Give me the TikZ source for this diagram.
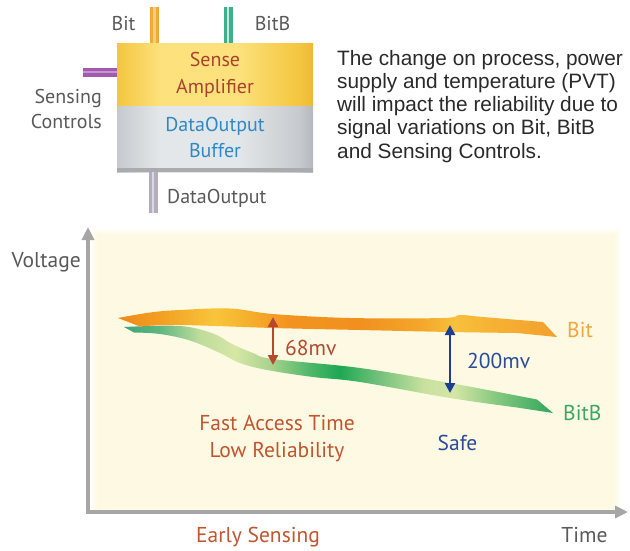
\documentclass[tikz,border=0pt]{standalone}
\usepackage{fontspec}
\setmainfont{Liberation Sans}
\newfontfamily\labelfont{PT Sans}
\usetikzlibrary{arrows.meta}

% text colours
\definecolor{txtgray}{HTML}{5A5A5A}
\definecolor{paratext}{HTML}{2A2A2A}
\definecolor{ampred}{HTML}{A9432D}
\definecolor{bufblue}{HTML}{2F88C6}
\definecolor{rust}{HTML}{C0552F}
\definecolor{safeblue}{HTML}{2B4C9B}
\definecolor{mvred}{HTML}{B04A30}
\definecolor{bitlabel}{HTML}{EFA63E}
\definecolor{bitblabel}{HTML}{3AA765}
% connector colours
\definecolor{arrowred}{HTML}{B8472F}
\definecolor{arrowblue}{HTML}{1D3F92}
\definecolor{axisgray}{HTML}{A6A6A6}
\definecolor{bitwire}{HTML}{F0A938}
\definecolor{bitcore}{HTML}{F8CF72}
\definecolor{bitbwire}{HTML}{3CB08C}
\definecolor{bitbcore}{HTML}{C4EBD9}
\definecolor{ctlwire}{HTML}{A05AAE}
\definecolor{ctlcore}{HTML}{C794D0}
\definecolor{dowire}{HTML}{B3ADBD}
\definecolor{docore}{HTML}{DCD8E2}
% fills
\definecolor{panelcream}{HTML}{FEF8DC}
\definecolor{bufedge}{HTML}{A9ABAE}
\definecolor{ampA}{HTML}{F4C63F}
\definecolor{ampB}{HTML}{FCE17C}
\definecolor{ampC}{HTML}{EDB936}
\definecolor{bufA}{HTML}{C6CACE}
\definecolor{bufB}{HTML}{E4E7E9}
\definecolor{bufC}{HTML}{B5B9BD}
% Bit band
\definecolor{oA}{HTML}{EE8A1C}
\definecolor{oB}{HTML}{F39F22}
\definecolor{oC}{HTML}{F8C53A}
\definecolor{oD}{HTML}{F6AE2C}
\definecolor{oE}{HTML}{F2931F}
\definecolor{oF}{HTML}{F1901F}
\definecolor{oG}{HTML}{F4A62A}
\definecolor{oH}{HTML}{F8C03C}
\definecolor{oI}{HTML}{F6B234}
\definecolor{oJ}{HTML}{F2A02C}
% BitB band
\definecolor{gA}{HTML}{3AA77A}
\definecolor{gB}{HTML}{5DB67F}
\definecolor{gC}{HTML}{BEDC9C}
\definecolor{gD}{HTML}{D6E7A5}
\definecolor{gE}{HTML}{A9D38E}
\definecolor{gF}{HTML}{4FB76A}
\definecolor{gG}{HTML}{1DA854}
\definecolor{gH}{HTML}{6BBE76}
\definecolor{gI}{HTML}{C9E1A0}
\definecolor{gJ}{HTML}{D4E6A6}
\definecolor{gK}{HTML}{88C981}
\definecolor{gL}{HTML}{2FA65C}

% TikZ fits the middle band 25bp--75bp of a shading to the path's box
\pgfdeclarehorizontalshading{ampshade}{100bp}{color(0bp)=(ampA); color(25bp)=(ampA); color(36bp)=(ampB); color(56bp)=(ampB); color(71.5bp)=(ampA); color(75bp)=(ampC); color(100bp)=(ampC)}
\pgfdeclarehorizontalshading{bufshade}{100bp}{color(0bp)=(bufA); color(25bp)=(bufA); color(36bp)=(bufB); color(56bp)=(bufB); color(71.5bp)=(bufA); color(75bp)=(bufC); color(100bp)=(bufC)}
\pgfdeclarehorizontalshading{bitshade}{100bp}{color(0bp)=(oA); color(25bp)=(oA); color(29.8bp)=(oB); color(36bp)=(oC); color(40bp)=(oD); color(44.5bp)=(oE); color(52.5bp)=(oF); color(59.4bp)=(oG); color(63.4bp)=(oH); color(67.4bp)=(oI); color(75bp)=(oJ); color(100bp)=(oJ)}
\pgfdeclarehorizontalshading{bitbshade}{100bp}{color(0bp)=(gA); color(25bp)=(gA); color(29bp)=(gB); color(33.8bp)=(gC); color(37.9bp)=(gD); color(42bp)=(gE); color(46.6bp)=(gF); color(50.1bp)=(gG); color(54.2bp)=(gH); color(60bp)=(gI); color(63.5bp)=(gJ); color(68.2bp)=(gK); color(75bp)=(gL); color(100bp)=(gL)}

% a block of lines whose baseline is that of its first line
\newcommand\linesblock[2]{\begin{tabular}[t]{@{}#1@{}}#2\end{tabular}}

\tikzset{
  lbl/.style={inner sep=0pt, font=\labelfont\fontsize{20}{25}\selectfont, text=txtgray},
  chartlbl/.style={inner sep=0pt, font=\labelfont\fontsize{21.5}{27}\selectfont},
  para/.style={inner sep=0pt, font=\fontsize{20.8}{23.3}\selectfont, text=paratext},
  blockpart/.style={inner sep=0pt, minimum width=196pt, shade,
    font=\labelfont\fontsize{20}{26.5}\selectfont},
  wire/.style={line width=9pt},
  wirecore/.style={line width=2.6pt},
  axis/.style={draw=axisgray, line width=3.4pt,
    {Triangle[length=13pt,width=12pt]}-{Triangle[length=13pt,width=12pt]}},
  mvarrow/.style={line width=2.4pt,
    {Triangle[length=10pt,width=10pt]}-{Triangle[length=10pt,width=10pt]}},
}

\begin{document}
\begin{tikzpicture}[x=1pt, y=-1pt]
\useasboundingbox (0,0) rectangle (630,550);
\fill[white] (0,0) rectangle (630,550);

% ---------- sense amplifier block ----------
\coordinate (bitEnd) at (154.5,7);
\coordinate (bitbEnd) at (228,7);
\coordinate (ctlEnd) at (83,72);
\coordinate (doEnd) at (153,213);

\node[blockpart, shading=ampshade, minimum height=63pt, text=ampred] (amp) at (215,74.5)
  {\linesblock{c}{Sense\\Amplifier}};
\node[blockpart, shading=bufshade, minimum height=66pt, text=bufblue] (buf) at (215,139)
  {\linesblock{c}{DataOutput\\Buffer}};
\fill[bufedge] (buf.south west) rectangle ([yshift=4pt]buf.south east);

% signal wires
\draw[wire, draw=bitwire] (bitEnd) -- (bitEnd |- amp.north);
\draw[wirecore, draw=bitcore] (bitEnd) -- (bitEnd |- amp.north);
\draw[wire, draw=bitbwire] (bitbEnd) -- (bitbEnd |- amp.north);
\draw[wirecore, draw=bitbcore] (bitbEnd) -- (bitbEnd |- amp.north);
\draw[wire, draw=ctlwire] (ctlEnd) -- (ctlEnd -| amp.west);
\draw[wirecore, draw=ctlcore] (ctlEnd) -- (ctlEnd -| amp.west);
\draw[wire, draw=dowire] (doEnd |- buf.south) -- (doEnd);
\draw[wirecore, draw=docore] (doEnd |- buf.south) -- (doEnd);

\node[lbl, anchor=base] (bitLbl) at (123.5,30) {Bit};
\node[lbl, anchor=base] (bitbLbl) at (272.5,30) {BitB};
\node[lbl, anchor=base east] (ctlLbl) at (102,103) {\linesblock{r}{Sensing\\Controls}};
\node[lbl, anchor=base west] (doLbl) at (167,203) {DataOutput};

\node[para, anchor=base west] (note) at (337,65)
  {\linesblock{l}{The change on process, power\\supply and temperature (PVT)\\will impact the reliability due to\\signal variations on Bit, BitB\\and Sensing Controls.}};

% ---------- voltage / time chart ----------
% cream panel with soft edges
\fill[panelcream!15!white] (90,228) rectangle (622,511);
\fill[panelcream!35!white] (92,230) rectangle (620,511);
\fill[panelcream!60!white] (94,232) rectangle (618,510);
\fill[panelcream!80!white] (97,235) rectangle (615,509);

\coordinate (org) at (88,512);
\coordinate (vtip) at (88,227);
\coordinate (htip) at (628,512);
\draw[axis] (vtip) -- (org) -- (htip);

% BitB band
\shade[shading=bitbshade]
  plot[smooth, tension=0.6] coordinates {(124,327) (180,326) (213,333.5) (232,344) (253,353) (273,359) (360,368) (450,383) (537,399.5)}
  -- (553,413)
  -- plot[smooth, tension=0.6] coordinates {(517,407.5) (450,398) (360,382) (313,377) (267,370) (240,363) (220,353) (190,340.5) (160,334) (134,332.5)}
  -- cycle;
% Bit band
\shade[shading=bitshade]
  plot[smooth, tension=0.6] coordinates {(118,318) (150,312.5) (180,310) (230,308.5) (273,314) (350,318) (443,318) (460,315) (483,317) (543,322)}
  -- (557,337)
  -- plot[smooth, tension=0.6] coordinates {(517,333) (450,332) (360,330) (273,328) (180,325) (140,326.5)}
  -- cycle;

\coordinate (gapTopA) at (273,317);
\coordinate (gapBotA) at (273,365);
\coordinate (gapTopB) at (450,325);
\coordinate (gapBotB) at (450,393);
\draw[mvarrow, draw=arrowred] (gapTopA) -- (gapBotA);
\draw[mvarrow, draw=arrowblue] (gapTopB) -- (gapBotB);

\node[chartlbl, text=mvred, anchor=base west] (mvA) at (285,355) {68mv};
\node[chartlbl, text=safeblue, anchor=base west] (mvB) at (467,368) {200mv};
\node[chartlbl, text=bitlabel, anchor=base west] (bitR) at (567,337) {Bit};
\node[chartlbl, text=bitblabel, anchor=base west] (bitbR) at (563,420) {BitB};
\node[chartlbl, text=rust, anchor=base] (fast) at (277,430)
  {\linesblock{c}{Fast Access Time\\Low Reliability}};
\node[chartlbl, text=safeblue, anchor=base] (safe) at (457.5,450) {Safe};
\node[chartlbl, text=txtgray, anchor=base east] (vlab) at (81,267) {Voltage};
\node[chartlbl, text=txtgray, anchor=base] (tlab) at (584.5,542) {Time};
\node[chartlbl, text=rust, anchor=base] (early) at (258,542) {Early Sensing};
\end{tikzpicture}
\end{document}
